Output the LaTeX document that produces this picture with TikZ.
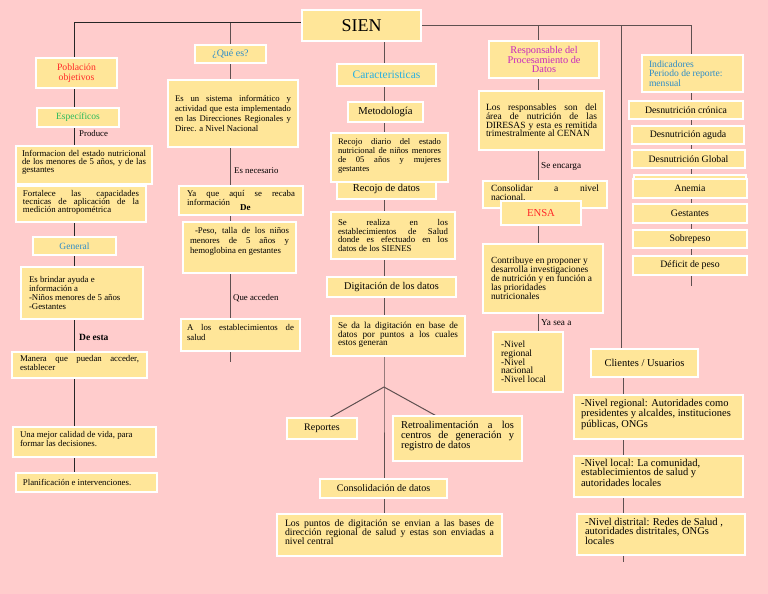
\documentclass[tikz,border=0pt]{standalone}
\usepackage{fontspec}
\setmainfont{Liberation Serif}
\usetikzlibrary{calc}
\definecolor{bgpink}{RGB}{255,204,204}
\definecolor{boxfill}{RGB}{255,230,153}
\definecolor{cred}{RGB}{255,40,40}
\definecolor{cgreen}{RGB}{40,185,90}
\definecolor{cblue}{RGB}{45,140,200}
\definecolor{ccyan}{RGB}{40,175,225}
\definecolor{cmag}{RGB}{200,40,190}
\definecolor{lnc}{RGB}{95,80,80}
\newcommand\fs[2]{\fontsize{#1pt}{#2pt}\selectfont}
\newcommand\bx[8]{\node[sbox, inner xsep=#7pt] (#1) at (#2,#3) {\parbox[c][\dimexpr#5pt-6pt\relax][#6]{\dimexpr#4pt-#7pt-#7pt\relax}{\hyphenpenalty=10000 \exhyphenpenalty=10000 \tolerance=10000 #8}};}
\newcommand\hx[7][]{\node[hdr, minimum width=#5pt, minimum height=#6pt, #1] (#2) at (#3,#4) {#7};}
\pgfdeclarelayer{bg}
\pgfsetlayers{bg,main}
\tikzset{
 sbox/.style={anchor=north west, fill=boxfill, draw=white, line width=1.2pt, inner ysep=3pt, outer sep=0pt},
 hdr/.style={anchor=north west, fill=boxfill, draw=white, line width=1.2pt, inner sep=0pt, outer sep=0pt, align=center, font=\fs{10}{10}},
 lbl/.style={anchor=west, inner sep=0pt, font=\fs{8.8}{9}},
 conn/.style={draw=lnc, line width=1pt},
}
\begin{document}
\begin{tikzpicture}[x=1pt, y=-1pt]
\begin{pgfonlayer}{bg}
\fill[bgpink] (0,0) rectangle (768,594);
\end{pgfonlayer}
\useasboundingbox (0,0) rectangle (768,594);

% ---- top
\hx[font=\fs{18}{18}]{sien}{302}{10}{119}{31}{SIEN}

% ---- column 1
\hx[font=\fs{9.7}{9.5}, text=cred]{pob}{36}{58}{81}{30}{Población\\objetivos}
\hx[font=\fs{9.5}{9.5}, text=cgreen]{esp}{37}{108}{82}{19}{Específicos}
\node[lbl] (produce) at (79,133) {Produce};
\bx{info}{16}{146}{136}{38}{t}{6}{\fs{8.8}{8.3}\vspace*{1pt}Informacion del estado nutricional\linebreak de los menores de 5 años, y de las\linebreak gestantes}
\bx{fort}{16}{186}{130}{36}{t}{7}{\fs{8.8}{8.2}\vspace*{1pt}Fortalece las capacidades\linebreak tecnicas de aplicación de la\linebreak medición antropométrica}
\hx[font=\fs{9.5}{9.5}, text=cblue]{gen}{33}{237}{83}{18}{General}
\bx{brindar}{21}{267}{122}{52}{c}{8}{\raggedright\fs{8.8}{8.7}Es brindar ayuda e\\información a\\-Niños menores de 5 años\\-Gestantes}
\node[lbl, font=\fs{9.5}{9.5}\bfseries] (deesta) at (79,337) {De esta};
\bx{manera}{12}{352}{135}{26}{t}{8}{\fs{8.8}{9}Manera que puedan acceder,\linebreak establecer}
\bx{mejor}{13}{427}{143}{30}{t}{7}{\raggedright\fs{8.8}{9}\vspace*{1pt}Una mejor calidad de vida, para\\formar las decisiones.}
\bx{plan}{16}{473}{141}{19}{c}{7}{\raggedright\fs{8.8}{9}Planificación e intervenciones.}

% ---- column 2
\hx[font=\fs{10}{10}, text=cblue]{que}{195}{45}{71}{18}{¿Qué es?}
\bx{sist}{168}{80}{130}{67}{c}{7}{\fs{8.7}{9.7}Es un sistema informático y\linebreak actividad que esta implementado\linebreak en las Direcciones Regionales y\linebreak Direc. a Nivel Nacional}
\node[lbl] (esnec) at (234,171) {Es necesario};
\bx{recaba}{179}{186}{124}{29}{t}{8}{\fs{8.8}{9}\vspace*{1pt}Ya que aquí se recaba\linebreak información}
\node[lbl, font=\fs{9}{9}\bfseries] (de) at (240,208) {De};
\bx{peso}{183}{222}{113}{51}{t}{7}{\fs{8.8}{10}\vspace*{2pt}\hspace*{5pt}-Peso, talla de los niños\linebreak menores de 5 años y\linebreak hemoglobina en gestantes}
\node[lbl] (queacc) at (233,298) {Que acceden};
\bx{estab}{181}{319}{119}{32}{t}{6}{\fs{8.8}{10}\vspace*{2pt}A los establecimientos de\linebreak salud}

% ---- column 3
\hx[font=\fs{11.5}{11.5}, text=ccyan]{caract}{337}{64}{99}{22}{Caracteristicas}
\hx[font=\fs{10.6}{10.6}]{metod}{348}{102}{75}{20}{Metodología}
\hx[font=\fs{10.5}{10.5}]{recojo}{337}{178}{99}{21}{\raisebox{-2pt}{Recojo de datos}}
\bx{recojod}{331}{133}{117}{49}{t}{7}{\fs{8.6}{9}\vspace*{3pt}Recojo diario del estado\linebreak nutricional de niños menores\linebreak de 05 años y mujeres\linebreak gestantes}
\bx{realiza}{331}{212}{124}{47}{c}{7}{\fs{8.8}{8.7}Se realiza en los\linebreak establecimientos de Salud\linebreak donde es efectuado en los\linebreak datos de los SIENES}
\hx[font=\fs{10.3}{10.3}]{digit}{327}{277}{129}{20}{Digitación de los datos}
\bx{seda}{331}{316}{134}{40}{t}{7}{\fs{9.2}{8.6}\vspace*{3pt}Se da la digitación en base de\linebreak datos por puntos a los cuales\linebreak estos generan}
\hx{rep}{287}{418}{70}{21}{Reportes}
\bx{retro}{393}{416}{129}{45}{t}{8}{\fs{10.5}{10}\vspace*{2pt}Retroalimentación a los\linebreak centros de generación y\linebreak registro de datos}
\hx{cons}{320}{479}{127}{19}{Consolidación de datos}
\bx{puntos}{277}{514}{225}{42}{t}{8}{\fs{9.8}{9}\vspace*{3pt}Los puntos de digitación se envian a las bases de\linebreak dirección regional de salud y estas son enviadas a\linebreak nivel central}

% ---- column 4
\hx[font=\fs{10.3}{9.8}, text=cmag]{resp}{489}{41}{110}{37}{Responsable del\\Procesamiento de\\Datos}
\bx{resps}{479}{91}{125}{59}{c}{7}{\fs{9.5}{8.8}Los responsables son del\linebreak área de nutrición de las\linebreak DIRESAS y esta es remitida\linebreak trimestralmente al CENAN}
\node[lbl, font=\fs{9.2}{9}] (seenc) at (541,166) {Se encarga};
\bx{consol}{483}{181}{124}{27}{t}{8}{\fs{9.5}{8.5}\vspace*{1pt}Consolidar a nivel\linebreak nacional.}
\hx[font=\fs{10.7}{10.7}, text=cred]{ensa}{501}{201}{80}{24}{ENSA}
\bx{contrib}{483}{244}{120}{69}{c}{8}{\raggedright\fs{9.4}{9}Contribuye en proponer y\\desarrolla investigaciones\\de nutrición y en función a\\las prioridades\\nutricionales}
\node[lbl, font=\fs{9.2}{9}] (yasea) at (541,323) {Ya sea a};
\bx{niv}{493}{332}{70}{60}{c}{8}{\raggedright\fs{9.5}{8.7}-Nivel\\regional\\-Nivel\\nacional\\-Nivel local}

% ---- column 5
\hx[font=\fs{10.5}{10.5}]{cli}{591}{349}{107}{28}{Clientes / Usuarios}
\bx{nreg}{574}{395}{169}{44}{t}{7}{\raggedright\fs{10.5}{9}\vspace*{1pt}-Nivel regional: Autoridades como\\presidentes y alcaldes, instituciones\\públicas, ONGs}
\bx{nloc}{574}{456}{169}{41}{t}{7}{\raggedright\fs{10.5}{9.3}-Nivel local: La comunidad,\\establecimientos de salud y\\autoridades locales}
\bx{ndist}{577}{514}{168}{41}{t}{8}{\raggedright\fs{10.5}{9.6}\vspace*{1pt}-Nivel distrital: Redes de Salud ,\\autoridades distritales, ONGs\\locales}

% ---- column 6
\bx{indic}{642}{55}{101}{37}{c}{7}{\raggedright\color{cblue}\fs{9.6}{9.5}Indicadores\\Periodo de reporte:\\mensual}
\hx[font=\fs{9.8}{9.8}]{dc}{629}{101}{114}{18}{Desnutrición crónica}
\hx[font=\fs{9.8}{9.8}]{da}{632}{126}{112}{18}{Desnutrición aguda}
\hx[font=\fs{9.8}{9.8}]{dg}{632}{150}{113}{18}{Desnutrición Global}
\hx{hid}{634}{175}{112}{19}{}
\hx[font=\fs{9.8}{9.8}]{anem}{633}{179}{114}{19}{Anemia}
\hx[font=\fs{9.8}{9.8}]{gest}{633}{204}{114}{19}{Gestantes}
\hx[font=\fs{9.8}{9.8}]{sobre}{633}{230}{114}{18}{Sobrepeso}
\hx[font=\fs{9.8}{9.8}]{defic}{633}{256}{114}{19}{Déficit de peso}

% ---- connectors
\coordinate (tl) at (74,23);
\coordinate (t2) at (230,23);
\coordinate (e2) at (230,362);
\coordinate (br) at (384,387);
\coordinate (t4) at (538,26);
\coordinate (t5) at (621,26);
\coordinate (e5) at (623,562);
\coordinate (t6) at (691,26);
\coordinate (e6) at (691,286);
\begin{pgfonlayer}{bg}
\draw[conn, draw=black!85] (sien.west |- tl) -- (tl) -- (tl |- pob.north);
\foreach \a/\b in {pob/esp, esp/info, info/fort, fort/gen, gen/brindar, brindar/manera, manera/mejor, mejor/plan}
  \draw[conn, draw=black!85] (tl |- \a.south) -- (tl |- \b.north);
\draw[conn] (t2) -- (t2 |- que.north);
\foreach \a/\b in {que/sist, sist/recaba, recaba/peso, peso/estab}
  \draw[conn] (t2 |- \a.south) -- (t2 |- \b.north);
\draw[conn] (t2 |- estab.south) -- (e2);
\foreach \a/\b in {sien/caract, caract/metod, metod/recojod, recojo/realiza, realiza/digit, digit/seda}
  \draw[conn] (br |- \a.south) -- (br |- \b.north);
\draw[conn] (br |- seda.south) -- (br) -- (br |- cons.north);
\draw[conn] (br) -- ($(rep.north)+(7,0)$);
\draw[conn] (br) -- ($(retro.north)+(-21,0)$);
\draw[conn] (br |- cons.south) -- (br |- puntos.north);
\draw[conn] (sien.east |- t4) -- (t6) -- (t6 |- indic.north);
\draw[conn] (t4) -- (t4 |- resp.north);
\foreach \a/\b in {resp/resps, resps/consol, ensa/contrib, contrib/niv}
  \draw[conn] (t4 |- \a.south) -- (t4 |- \b.north);
\draw[conn] (t5) -- (t5 |- cli.north);
\foreach \a/\b in {cli/nreg, nreg/nloc, nloc/ndist}
  \draw[conn] (e5 |- \a.south) -- (e5 |- \b.north);
\draw[conn] (e5 |- ndist.south) -- (e5);
\foreach \a/\b in {indic/dc, dc/da, da/dg, dg/hid, anem/gest, gest/sobre, sobre/defic}
  \draw[conn] (t6 |- \a.south) -- (t6 |- \b.north);
\draw[conn] (t6 |- defic.south) -- (e6);
\end{pgfonlayer}
\end{tikzpicture}
\end{document}
